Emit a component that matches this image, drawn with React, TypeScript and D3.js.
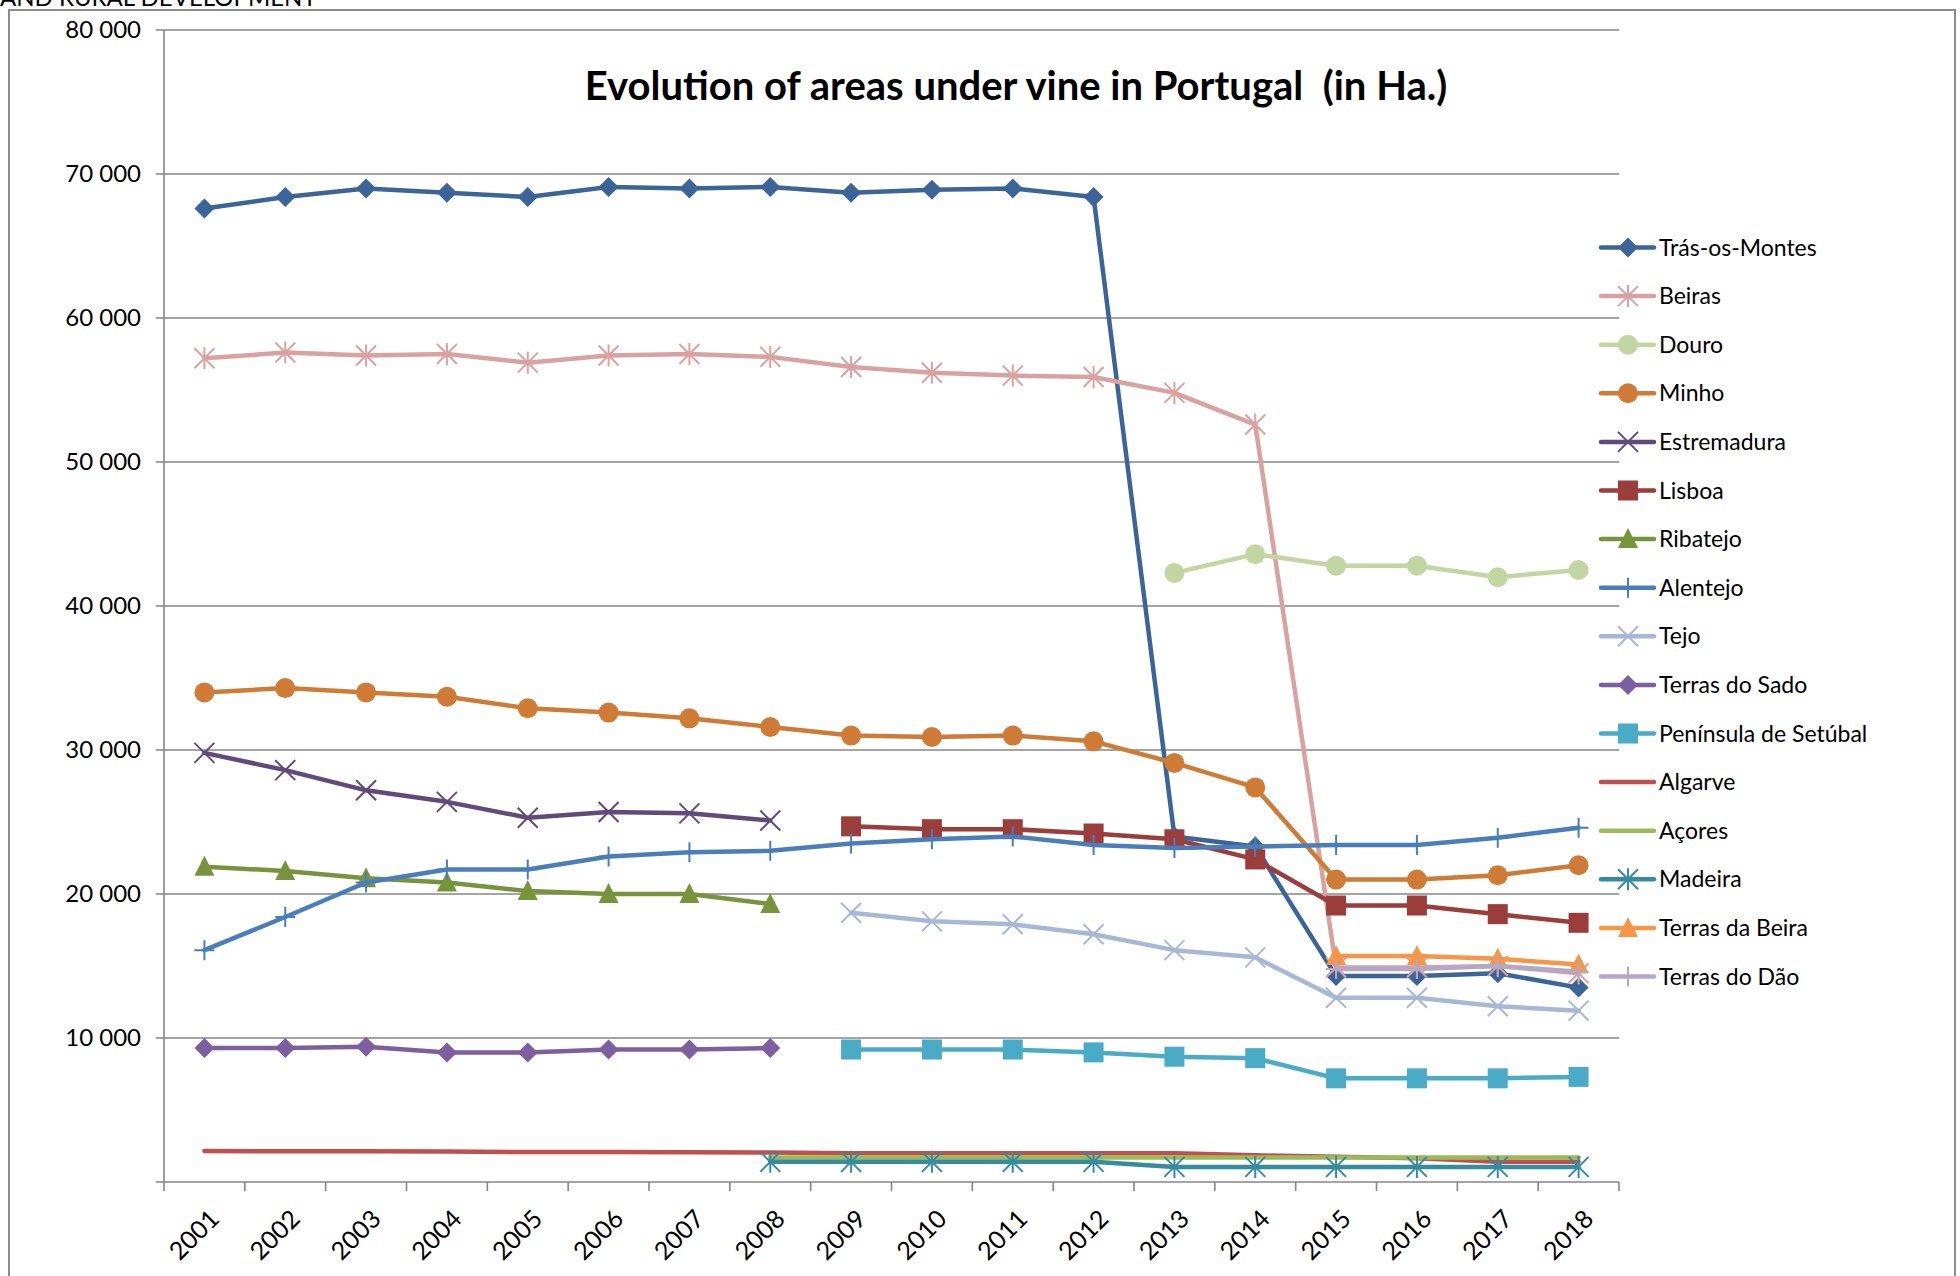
import * as d3 from "d3";

const years = ["2001", "2002", "2003", "2004", "2005", "2006", "2007", "2008", "2009", "2010", "2011", "2012", "2013", "2014", "2015", "2016", "2017", "2018"];
const yTicks = [10000, 20000, 30000, 40000, 50000, 60000, 70000, 80000];

const trasOsMontes = [67600, 68400, 69000, 68700, 68400, 69100, 69000, 69100, 68700, 68900, 69000, 68400, 24000, 23300, 14300, 14300, 14500, 13500];
const beiras = [57200, 57600, 57400, 57500, 56900, 57400, 57500, 57300, 56600, 56200, 56000, 55900, 54800, 52600, 14900, 14900, 15000, 14500];
const douro = [null, null, null, null, null, null, null, null, null, null, null, null, 42300, 43600, 42800, 42800, 42000, 42500];
const minho = [34000, 34300, 34000, 33700, 32900, 32600, 32200, 31600, 31000, 30900, 31000, 30600, 29100, 27400, 21000, 21000, 21300, 22000];
const estremadura = [29800, 28600, 27200, 26400, 25300, 25700, 25600, 25100, null, null, null, null, null, null, null, null, null, null];
const lisboa = [null, null, null, null, null, null, null, null, 24700, 24500, 24500, 24200, 23800, 22400, 19200, 19200, 18600, 18000];
const ribatejo = [21900, 21600, 21100, 20800, 20200, 20000, 20000, 19300, null, null, null, null, null, null, null, null, null, null];
const alentejo = [16100, 18400, 20800, 21700, 21700, 22600, 22900, 23000, 23500, 23800, 24000, 23400, 23200, 23300, 23400, 23400, 23900, 24600];
const tejo = [null, null, null, null, null, null, null, null, 18700, 18100, 17900, 17200, 16100, 15600, 12800, 12800, 12200, 11900];
const terrasDoSado = [9300, 9300, 9400, 9000, 9000, 9200, 9200, 9300, null, null, null, null, null, null, null, null, null, null];
const peninsulaSetubal = [null, null, null, null, null, null, null, null, 9200, 9200, 9200, 9000, 8700, 8600, 7200, 7200, 7200, 7300];
const algarve = [2150, 2130, 2140, 2120, 2080, 2080, 2070, 2050, 2000, 2000, 2000, 2000, 2000, 1850, 1750, 1650, 1400, 1400];
const acores = [null, null, null, null, null, null, null, 1700, 1700, 1700, 1700, 1700, 1700, 1700, 1700, 1700, 1700, 1700];
const madeira = [null, null, null, null, null, null, null, 1400, 1400, 1400, 1400, 1400, 1050, 1050, 1050, 1050, 1050, 1050];
const terrasDaBeira = [null, null, null, null, null, null, null, null, null, null, null, null, null, null, 15700, 15700, 15500, 15100];
const terrasDoDao = [null, null, null, null, null, null, null, null, null, null, null, null, null, null, 14800, 14800, 15000, 14600];

type Marker = "diamond" | "star" | "circle" | "x" | "square" | "triangle" | "plus" | "none";

const series: { name: string; values: (number | null)[]; color: string; marker: Marker }[] = [
  { name: "Trás-os-Montes", values: trasOsMontes, color: "#3b6499", marker: "diamond" },
  { name: "Beiras", values: beiras, color: "#d9a2a1", marker: "star" },
  { name: "Douro", values: douro, color: "#c3d6a2", marker: "circle" },
  { name: "Minho", values: minho, color: "#cf7b35", marker: "circle" },
  { name: "Estremadura", values: estremadura, color: "#604a7b", marker: "x" },
  { name: "Lisboa", values: lisboa, color: "#9a3d3b", marker: "square" },
  { name: "Ribatejo", values: ribatejo, color: "#77933c", marker: "triangle" },
  { name: "Alentejo", values: alentejo, color: "#4a7ebb", marker: "plus" },
  { name: "Tejo", values: tejo, color: "#a7b8d6", marker: "x" },
  { name: "Terras do Sado", values: terrasDoSado, color: "#7d5fa0", marker: "diamond" },
  { name: "Península de Setúbal", values: peninsulaSetubal, color: "#4aabc6", marker: "square" },
  { name: "Algarve", values: algarve, color: "#c0504d", marker: "none" },
  { name: "Açores", values: acores, color: "#9bbb59", marker: "none" },
  { name: "Madeira", values: madeira, color: "#368ba1", marker: "star" },
  { name: "Terras da Beira", values: terrasDaBeira, color: "#f79646", marker: "triangle" },
  { name: "Terras do Dão", values: terrasDoDao, color: "#b4a7c8", marker: "plus" },
];

const W = 1960;
const H = 1276;
const margin = { left: 164, right: 341, top: 30, bottom: 94 };
const font = "Lato, 'Open Sans', sans-serif";

const x = d3.scaleBand<string>().domain(years).range([margin.left, W - margin.right]).padding(0);
const y = d3.scaleLinear().domain([0, 80000]).range([H - margin.bottom, margin.top]);
const cx = (yr: string) => (x(yr) ?? 0) + x.bandwidth() / 2;

function markerShape(m: Marker, color: string, key: string) {
  const r = 10;
  switch (m) {
    case "diamond":
      return <path key={key} d={`M0,${-r}L${r},0L0,${r}L${-r},0Z`} fill={color} />;
    case "circle":
      return <circle key={key} r={r} fill={color} />;
    case "square":
      return <rect key={key} x={-r} y={-r} width={2 * r} height={2 * r} fill={color} />;
    case "triangle":
      return <path key={key} d={`M0,${-r - 1}L${r},${r - 1}L${-r},${r - 1}Z`} fill={color} />;
    case "x":
      return <path key={key} d={`M${-r},${-r}L${r},${r}M${-r},${r}L${r},${-r}`} stroke={color} strokeWidth={2} fill="none" />;
    case "plus":
      return <path key={key} d={`M0,${-r}L0,${r}M${-r},0L${r},0`} stroke={color} strokeWidth={2} fill="none" />;
    case "star":
      return <path key={key} d={`M${-r},${-r}L${r},${r}M${-r},${r}L${r},${-r}M0,${-r - 1}L0,${r + 1}`} stroke={color} strokeWidth={2} fill="none" />;
    default:
      return null;
  }
}

export default function App() {
  const line = d3
    .line<{ yr: string; v: number | null }>()
    .defined((d) => d.v != null)
    .x((d) => cx(d.yr))
    .y((d) => y(d.v as number));

  const legendX = 1601;
  const legendY0 = 247.5;
  const legendStep = 48.6;
  const x0 = margin.left;
  const x1 = W - margin.right;
  const yBottom = y(0);

  return (
    <svg
      width={W}
      height={H}
      xmlns="http://www.w3.org/2000/svg"
      style={{ position: "fixed", left: 0, top: 0, background: "#fff" }}
    >
      <rect x={0} y={0} width={W} height={H} fill="#fff" />
      {/* header text from the page above, cut off by the crop */}
      <text x={0} y={6} fontFamily={font} fontSize={24} fill="#000">AND RURAL DEVELOPMENT</text>
      <rect x={9} y={10} width={1946} height={H + 10} fill="#fff" stroke="#8c8c8c" strokeWidth={2} />

      {/* gridlines */}
      {yTicks.map((t) => (
        <g key={t}>
          <line x1={x0 - 8} x2={x1} y1={y(t)} y2={y(t)} stroke="#868686" strokeWidth={1.6} />
          <text x={141} y={y(t)} dy="0.35em" textAnchor="end" fontFamily={font} fontSize={24} fill="#000">
            {d3.format(",")(t).replace(",", " ")}
          </text>
        </g>
      ))}

      {/* axes */}
      <line x1={x0} x2={x0} y1={margin.top} y2={yBottom} stroke="#868686" strokeWidth={1.6} />
      <line x1={x0 - 8} x2={x1} y1={yBottom} y2={yBottom} stroke="#868686" strokeWidth={1.6} />
      {years.map((yr) => (
        <line key={"t" + yr} x1={x(yr)} x2={x(yr)} y1={yBottom} y2={yBottom + 9} stroke="#868686" strokeWidth={1.6} />
      ))}
      <line x1={x1} x2={x1} y1={yBottom} y2={yBottom + 9} stroke="#868686" strokeWidth={1.6} />
      {years.map((yr) => (
        <text
          key={"l" + yr}
          transform={`translate(${cx(yr) + 4},${yBottom + 26}) rotate(-45)`}
          textAnchor="end"
          dy="0.7em"
          fontFamily={font}
          fontSize={25}
          fill="#000"
        >
          {yr}
        </text>
      ))}

      {/* title */}
      <text x={1016} y={100} textAnchor="middle" fontFamily={font} fontWeight="bold" fontSize={40} fill="#000" style={{ whiteSpace: "pre" }}>
        {"Evolution of areas under vine in Portugal  (in Ha.)"}
      </text>

      {/* series */}
      {series.map((s) => {
        const pts = years.map((yr, i) => ({ yr, v: s.values[i] }));
        return (
          <g key={s.name}>
            <path d={line(pts) ?? ""} fill="none" stroke={s.color} strokeWidth={4.5} strokeLinejoin="round" strokeLinecap="round" />
            {pts
              .filter((p) => p.v != null)
              .map((p) => (
                <g key={p.yr} transform={`translate(${cx(p.yr)},${y(p.v as number)})`}>
                  {markerShape(s.marker, s.color, "m")}
                </g>
              ))}
          </g>
        );
      })}

      {/* legend */}
      {series.map((s, i) => {
        const ly = legendY0 + i * legendStep;
        return (
          <g key={"lg" + s.name} transform={`translate(${legendX},${ly})`}>
            <line x1={0} x2={53} y1={0} y2={0} stroke={s.color} strokeWidth={4.5} strokeLinecap="round" />
            <g transform="translate(27,0)">{markerShape(s.marker, s.color, "m")}</g>
            <text x={58} y={0} dy="0.35em" fontFamily={font} fontSize={23} fill="#000">
              {s.name}
            </text>
          </g>
        );
      })}
    </svg>
  );
}
